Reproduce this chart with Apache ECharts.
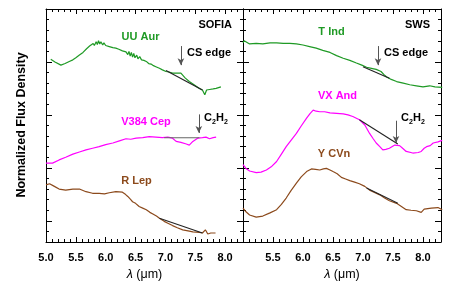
<!DOCTYPE html>
<html><head><meta charset="utf-8">
<script src="https://cdn.jsdelivr.net/npm/echarts@6/dist/echarts.min.js"></script>
<style>html,body{margin:0;padding:0;background:#fff}#c{width:464px;height:286px}</style>
</head><body><div id="c"></div>
<script>
// ---- data: wavelength (micron), normalized flux (offset) ----
const uuAur = [[5.08,3.05],[5.15,3.00],[5.25,2.94],[5.32,2.97],[5.39,3.01],[5.45,3.04],[5.50,3.08],[5.56,3.13],[5.62,3.18],[5.68,3.25],[5.73,3.30],[5.76,3.28],[5.79,3.35],[5.81,3.31],[5.84,3.38],[5.86,3.33],[5.88,3.40],[5.90,3.34],[5.92,3.38],[5.95,3.32],[5.97,3.36],[6.00,3.31],[6.03,3.34],[6.06,3.29],[6.09,3.32],[6.12,3.27],[6.17,3.26],[6.22,3.24],[6.28,3.21],[6.34,3.19],[6.37,3.14],[6.39,3.20],[6.41,3.11],[6.43,3.18],[6.45,3.09],[6.47,3.16],[6.49,3.08],[6.52,3.13],[6.54,3.06],[6.57,3.10],[6.60,3.04],[6.64,3.03],[6.68,3.01],[6.72,2.97],[6.76,2.96],[6.80,2.93],[6.84,2.91],[6.90,2.88],[6.95,2.85],[7.01,2.82],[7.06,2.81],[7.12,2.79],[7.19,2.79],[7.26,2.79],[7.33,2.70],[7.40,2.63],[7.48,2.57],[7.57,2.50],[7.62,2.47],[7.66,2.38],[7.69,2.47],[7.74,2.48],[7.80,2.49],[7.85,2.50],[7.93,2.53]];
const v384Cep = [[5.00,1.09],[5.11,1.09],[5.22,1.15],[5.33,1.20],[5.45,1.26],[5.56,1.30],[5.67,1.34],[5.78,1.37],[5.89,1.40],[6.00,1.44],[6.12,1.47],[6.23,1.51],[6.34,1.55],[6.42,1.54],[6.51,1.56],[6.62,1.57],[6.73,1.59],[6.84,1.58],[6.95,1.57],[7.04,1.58],[7.12,1.56],[7.18,1.50],[7.26,1.48],[7.35,1.45],[7.40,1.43],[7.46,1.50],[7.54,1.56],[7.62,1.57],[7.68,1.58],[7.74,1.55],[7.80,1.57],[7.85,1.58]];
const rLep = [[5.00,0.68],[5.06,0.70],[5.14,0.65],[5.22,0.60],[5.33,0.58],[5.45,0.60],[5.56,0.60],[5.67,0.55],[5.78,0.52],[5.89,0.52],[5.98,0.51],[6.06,0.53],[6.17,0.55],[6.28,0.54],[6.33,0.50],[6.37,0.46],[6.40,0.44],[6.42,0.40],[6.45,0.36],[6.50,0.33],[6.56,0.27],[6.62,0.24],[6.68,0.21],[6.74,0.16],[6.79,0.13],[6.85,0.09],[6.90,0.05],[6.98,-0.01],[7.05,-0.05],[7.12,-0.09],[7.20,-0.13],[7.29,-0.17],[7.38,-0.19],[7.46,-0.21],[7.57,-0.22],[7.62,-0.23],[7.67,-0.17],[7.71,-0.25],[7.76,-0.23],[7.84,-0.23]];
const tInd = [[5.00,3.36],[5.02,3.40],[5.05,3.37],[5.11,3.34],[5.22,3.35],[5.33,3.34],[5.45,3.36],[5.56,3.36],[5.67,3.35],[5.78,3.35],[5.89,3.34],[6.00,3.32],[6.11,3.29],[6.22,3.26],[6.33,3.22],[6.45,3.18],[6.56,3.12],[6.67,3.07],[6.78,3.03],[6.89,2.98],[6.98,2.94],[7.06,2.90],[7.14,2.88],[7.22,2.86],[7.30,2.82],[7.35,2.76],[7.39,2.72],[7.47,2.67],[7.56,2.63],[7.67,2.60],[7.78,2.57],[7.89,2.55],[8.00,2.53],[8.11,2.55],[8.20,2.53],[8.32,2.52]];
const vxAnd = [[5.00,1.06],[5.05,0.99],[5.11,0.94],[5.22,0.91],[5.30,0.92],[5.39,0.96],[5.47,1.02],[5.56,1.12],[5.64,1.26],[5.72,1.40],[5.80,1.52],[5.89,1.65],[5.97,1.79],[6.06,1.94],[6.12,2.03],[6.17,2.09],[6.22,2.07],[6.28,2.06],[6.36,2.06],[6.45,2.04],[6.56,2.03],[6.67,2.02],[6.75,2.00],[6.83,1.97],[6.94,1.91],[7.03,1.81],[7.11,1.65],[7.17,1.55],[7.22,1.47],[7.28,1.40],[7.33,1.34],[7.38,1.35],[7.44,1.37],[7.53,1.43],[7.61,1.42],[7.66,1.37],[7.72,1.31],[7.83,1.28],[7.92,1.29],[7.97,1.31],[8.02,1.37],[8.06,1.40],[8.12,1.42],[8.17,1.47],[8.25,1.49],[8.32,1.52]];
const yCVn = [[5.00,0.24],[5.05,0.17],[5.11,0.11],[5.22,0.07],[5.33,0.09],[5.45,0.15],[5.56,0.21],[5.64,0.31],[5.72,0.43],[5.80,0.57],[5.89,0.71],[5.97,0.83],[6.06,0.93],[6.14,0.98],[6.21,0.97],[6.28,0.96],[6.34,0.98],[6.39,0.99],[6.45,0.96],[6.50,0.93],[6.57,0.89],[6.64,0.82],[6.71,0.79],[6.78,0.76],[6.86,0.73],[6.94,0.70],[7.03,0.65],[7.11,0.58],[7.20,0.53],[7.28,0.49],[7.36,0.43],[7.44,0.38],[7.56,0.33],[7.64,0.27],[7.72,0.21],[7.80,0.20],[7.89,0.19],[7.97,0.16],[8.02,0.22],[8.14,0.24],[8.25,0.25],[8.32,0.21]];
// continuum fit lines
const uuAurFit = [[7.01,2.84],[7.62,2.47]];
const v384CepFit = [[6.98,1.57],[7.57,1.57]];
const rLepFit = [[6.90,0.05],[7.62,-0.23]];
const tIndFit = [[7.00,2.91],[7.44,2.69]];
const vxAndFit = [[6.94,1.91],[7.58,1.45]];
const yCVnFit = [[7.06,0.62],[7.58,0.33]];
// arrows: [x, yTop, yBottom]
const arrowsLeft = [[7.26,3.30,2.94],[7.56,2.01,1.66]];
const arrowsRight = [[7.25,3.30,2.94],[7.55,1.89,1.47]];
const xTickLabels = [5.0,5.5,6.0,6.5,7.0,7.5,8.0];

const GREEN = '#1f9a25', MAG = '#ff00ff', BROWN = '#8c4a1c';
const FONT = 'Liberation Sans';
const chart = echarts.init(document.getElementById('c'), null, {renderer:'canvas'});

const grids = [
  {left:46, right:221, top:9, bottom:44},
  {left:243, right:23, top:9, bottom:44}
];
const xAxes = [], yAxes = [];
grids.forEach((g, gi) => {
  ['bottom','top'].forEach(pos => {
    xAxes.push({gridIndex:gi, type:'value', position:pos, min:5, max:8.3, interval:0.1,
      axisLine:{show:true, onZero:false, lineStyle:{color:'#000', width:1}},
      axisTick:{inside:true, length:3, lineStyle:{color:'#000'}},
      axisLabel:{show:false}, splitLine:{show:false}});
    xAxes.push({gridIndex:gi, type:'value', position:pos, min:5, max:8.3, interval:0.5,
      axisLine:{show:false, onZero:false},
      axisTick:{inside:true, length:5, lineStyle:{color:'#000'}},
      axisLabel:{show:pos==='bottom', margin:10, color:'#000', fontFamily:FONT, fontWeight:'bold', fontSize:11,
        formatter: v => { const t = xTickLabels.find(x => Math.abs(x - v) < 1e-6); if (t === undefined) return ''; if (gi===1 && t===5.0) return ''; return t.toFixed(1); }},
      splitLine:{show:false}});
  });
  ['left','right'].forEach(pos => {
    yAxes.push({gridIndex:gi, type:'value', position:pos, min:-0.4, max:4, interval:0.2,
      axisLine:{show:true, onZero:false, lineStyle:{color:'#000', width:1}},
      axisTick:{inside:true, length:3, lineStyle:{color:'#000'}},
      axisLabel:{show:false}, splitLine:{show:false}});
    yAxes.push({gridIndex:gi, type:'value', position:pos, min:-0.4, max:4, interval:0.2,
      axisLine:{show:false, onZero:false},
      axisTick:{inside:true, length:6, customValues:[0,1,2,3,4], lineStyle:{color:'#000'}},
      axisLabel:{show:false}, splitLine:{show:false}});
  });
});

function spec(data, color, gi){
  return {type:'line', data, xAxisIndex:gi*4, yAxisIndex:gi*4, showSymbol:false, symbol:'none',
    lineStyle:{color, width:1.2}, silent:true, z:3};
}
function fit(data, gi, color){
  return {type:'line', data, xAxisIndex:gi*4, yAxisIndex:gi*4, showSymbol:false, symbol:'none',
    lineStyle:{color: color || '#222', width:1.1}, silent:true, z:4};
}
function arrows(list, gi){
  return {type:'line', data:[], xAxisIndex:gi*4, yAxisIndex:gi*4, silent:true, z:5,
    markLine:{silent:true, animation:false, label:{show:false}, symbolSize:[5,7],
      lineStyle:{color:'#555', width:1, type:'solid'},
      data: list.map(a => [{coord:[a[0],a[1]], symbol:'none'},{coord:[a[0],a[2]], symbol:'arrow'}])}};
}

function txt(x, y, text, color, align, size){
  return {type:'text', x, y, style:{text, fill:color, font:'bold '+(size||11)+'px "'+FONT+'"', align:align||'center', verticalAlign:'middle'}, z:10};
}
function c2h2(x, y){
  const f = s => 'bold '+s+'px "'+FONT+'"';
  return [
    {type:'text', x:x, y:y, style:{text:'C', fill:'#000', font:f(11), verticalAlign:'middle'}, z:10},
    {type:'text', x:x+8, y:y+4, style:{text:'2', fill:'#000', font:f(7), verticalAlign:'middle'}, z:10},
    {type:'text', x:x+12, y:y, style:{text:'H', fill:'#000', font:f(11), verticalAlign:'middle'}, z:10},
    {type:'text', x:x+20, y:y+4, style:{text:'2', fill:'#000', font:f(7), verticalAlign:'middle'}, z:10}
  ];
}

const graphics = [
  txt(232, 25, 'SOFIA', '#000', 'right'),
  txt(140.5, 37, 'UU Aur', GREEN),
  txt(187, 53, 'CS edge', '#000', 'left'),
  txt(146, 122, 'V384 Cep', MAG),
  txt(136.5, 181, 'R Lep', BROWN),
  txt(430, 25, 'SWS', '#000', 'right'),
  txt(331.5, 32, 'T Ind', GREEN),
  txt(384, 53, 'CS edge', '#000', 'left'),
  txt(337.5, 96, 'VX And', MAG),
  txt(334, 154, 'Y CVn', BROWN),
  ...c2h2(204, 118),
  ...c2h2(401, 118),
  {type:'text', x:22, y:125, rotation:Math.PI/2, style:{text:'Normalized Flux Density', fill:'#000', font:'bold 12.5px "'+FONT+'"', align:'center', verticalAlign:'middle'}, z:10},
  {type:'text', x:144.5, y:275, style:{text:'{i|λ} (μm)', fill:'#000', font:'12.5px "'+FONT+'"', align:'center', verticalAlign:'middle', rich:{i:{fontStyle:'italic', fontSize:12.5, fontFamily:FONT}}}, z:10},
  {type:'text', x:342, y:275, style:{text:'{i|λ} (μm)', fill:'#000', font:'12.5px "'+FONT+'"', align:'center', verticalAlign:'middle', rich:{i:{fontStyle:'italic', fontSize:12.5, fontFamily:FONT}}}, z:10}
];

chart.setOption({
  animation:false,
  backgroundColor:'#fff',
  grid: grids,
  xAxis: xAxes,
  yAxis: yAxes,
  series: [
    spec(uuAur, GREEN, 0), spec(v384Cep, MAG, 0), spec(rLep, BROWN, 0),
    fit(uuAurFit, 0), fit(v384CepFit, 0, '#666'), fit(rLepFit, 0),
    spec(tInd, GREEN, 1), spec(vxAnd, MAG, 1), spec(yCVn, BROWN, 1),
    fit(tIndFit, 1), fit(vxAndFit, 1), fit(yCVnFit, 1),
    arrows(arrowsLeft, 0), arrows(arrowsRight, 1)
  ],
  graphic: graphics
});
</script></body></html>
